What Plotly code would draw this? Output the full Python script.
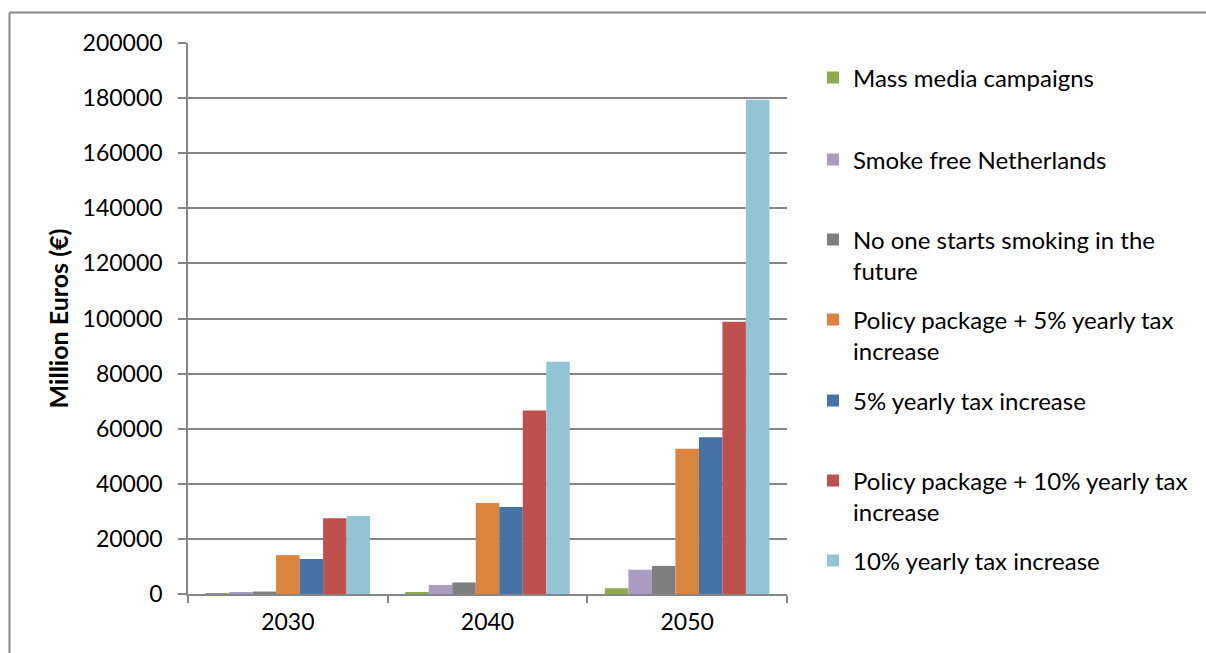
import plotly.graph_objects as go

years = ["2030", "2040", "2050"]

series_names = [
    "Mass media campaigns",
    "Smoke free Netherlands",
    "No one starts smoking in the<br>future",
    "Policy package + 5% yearly tax<br>increase",
    "5% yearly tax increase",
    "Policy package + 10% yearly tax<br>increase",
    "10% yearly tax increase",
]

mass_media = [150, 600, 2100]
smoke_free = [500, 3300, 8800]
no_one_starts = [900, 4200, 10200]
package_tax5 = [14100, 33000, 52700]
tax5 = [12700, 31600, 56900]
package_tax10 = [27500, 66600, 98800]
tax10 = [28300, 84300, 179400]

series_values = [mass_media, smoke_free, no_one_starts, package_tax5,
                 tax5, package_tax10, tax10]

colors = ["#8EA94F", "#AA9BC0", "#7F7F7F", "#DB843D",
          "#4572A7", "#C0504D", "#93C4D5"]

y_ticks = list(range(0, 200001, 20000))

FONT = "Lato"
W, H = 1206, 653
# plot area in pixels
L, R, T, B = 188, 787, 43, 594

fig = go.Figure()

# legend rows: vertical centre of each entry's first line, in pixels
legend_rows = [78, 160, 240, 320, 401, 481, 561]

for i, (name, vals, col) in enumerate(zip(series_names, series_values, colors)):
    lg = "legend" if i == 0 else f"legend{i + 1}"
    fig.add_trace(go.Bar(
        x=years, y=vals, name=name, marker=dict(color=col, line=dict(width=0)),
        legend=lg,
    ))
    fig.update_layout({lg: dict(
        x=813 / W, y=1 - (legend_rows[i] - 22.5) / H,
        xref="container", yref="container",
        xanchor="left", yanchor="top",
        valign="top",
        bgcolor="rgba(0,0,0,0)",
        font=dict(family=FONT, size=24, color="#000000"),
    )})

grid = "#868686"

fig.update_layout(
    width=W, height=H,
    margin=dict(l=L, r=W - R, t=T, b=H - B),
    paper_bgcolor="white", plot_bgcolor="white",
    barmode="group", bargap=0.176, bargroupgap=0,
    showlegend=True,
    font=dict(family=FONT, size=23, color="#000000"),
    xaxis=dict(
        type="category",
        showline=True, linecolor=grid, linewidth=1.5,
        ticks="outside", tickson="boundaries", ticklen=7, tickcolor=grid, tickwidth=1.5,
        tickfont=dict(family=FONT, size=23),
        ticklabelstandoff=7,
        showgrid=False, zeroline=False,
    ),
    yaxis=dict(
        range=[0, 200000],
        tickvals=y_ticks, ticktext=[str(v) for v in y_ticks],
        showline=True, linecolor=grid, linewidth=1.5,
        ticks="outside", ticklen=8, tickcolor=grid, tickwidth=1.5,
        ticklabelstandoff=11,
        showgrid=True, gridcolor=grid, gridwidth=1.5,
        zeroline=False,
        tickfont=dict(family=FONT, size=23),
        title=dict(text="<b>Million Euros (€)</b>", standoff=7,
                   font=dict(family=FONT, size=25)),
    ),
)

# chart frame (top and left edges visible in the window)
def px_x(p):
    return (p - L) / (R - L)

def px_y(p):
    return (B - p) / (B - T)

frame = dict(color="#878787", width=2)
fig.add_shape(type="line", xref="paper", yref="paper",
              x0=px_x(9.5), y0=px_y(12.5), x1=px_x(1210), y1=px_y(12.5), line=frame)
fig.add_shape(type="line", xref="paper", yref="paper",
              x0=px_x(9.5), y0=px_y(12.5), x1=px_x(9.5), y1=px_y(660), line=frame)

fig.write_html("out.html")
